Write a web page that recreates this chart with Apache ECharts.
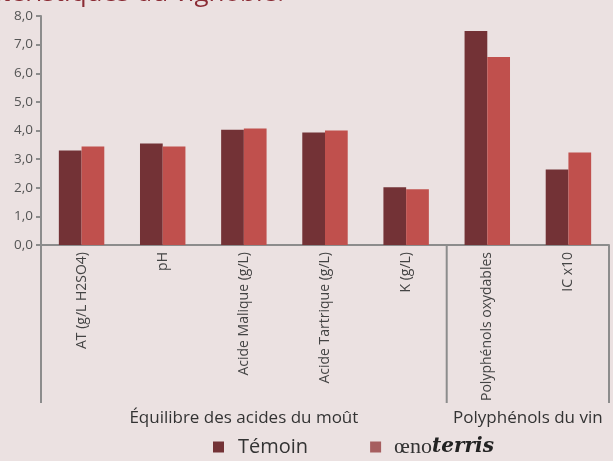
<!DOCTYPE html>
<html>
<head>
<meta charset="utf-8">
<script src="https://cdn.jsdelivr.net/npm/echarts@6/dist/echarts.min.js"></script>
<style>
html,body{margin:0;padding:0;background:#ebe1e1;}
#c{width:613px;height:461px;}
</style>
</head>
<body>
<div id="c"></div>
<script>
var categories = ['AT (g/L H2SO4)', 'pH', 'Acide Malique (g/L)', 'Acide Tartrique (g/L)', 'K (g/L)', 'Polyphénols oxydables', 'IC x10'];
var temoin = [3.30, 3.55, 4.03, 3.93, 2.02, 7.48, 2.64];
var oenoterris = [3.44, 3.44, 4.07, 4.00, 1.95, 6.57, 3.23];
var groups = [['Équilibre des acides du moût', 0, 4], ['Polyphénols du vin', 5, 6]];
var yTicks = { min: 0, max: 8, interval: 1 };

var FONT = 'Open Sans';
var chart = echarts.init(document.getElementById('c'), null, { renderer: 'canvas' });
var axisColor = '#8c8c8c';

var option = {
  backgroundColor: '#ebe1e1',
  animation: false,
  textStyle: { fontFamily: FONT },
  grid: { left: 41, right: 4, top: 16, bottom: 216, containLabel: false },
  legend: {
    bottom: -2, left: 208,
    itemWidth: 11, itemHeight: 11, itemGap: 62,
    icon: 'rect',
    data: [
      { name: 'Témoin', itemStyle: { color: '#733236' } },
      { name: 'oenoterris', itemStyle: { color: '#a65e5f' } }
    ],
    formatter: function (n) {
      if (n === 'oenoterris') return '{a|œno}{b|terris}';
      return '{t|' + n + '}';
    },
    textStyle: {
      rich: {
        t: { fontSize: 20, color: '#333', fontFamily: FONT, padding: [0, 0, 0, 9] },
        a: { fontSize: 22, color: '#333', fontFamily: 'Liberation Serif', padding: [0, 0, 0, 8] },
        b: { fontSize: 20, color: '#222', fontFamily: 'DejaVu Serif', fontStyle: 'italic', fontWeight: 'bold' }
      }
    }
  },
  xAxis: {
    type: 'category',
    data: categories,
    axisLine: { lineStyle: { color: axisColor, width: 2 } },
    axisTick: { show: false },
    axisLabel: { rotate: 90, color: '#444', fontSize: 14, fontFamily: FONT, margin: 7, interval: 0 }
  },
  yAxis: {
    type: 'value',
    min: yTicks.min, max: yTicks.max, interval: yTicks.interval,
    splitLine: { show: false },
    axisLine: { show: true, lineStyle: { color: axisColor, width: 2 } },
    axisTick: { show: true, length: 5, lineStyle: { color: axisColor, width: 2 } },
    axisLabel: {
      color: '#555', fontSize: 13.5, fontFamily: FONT, margin: 8,
      formatter: function (v) { return v.toFixed(1).replace('.', ','); }
    }
  },
  series: [
    { name: 'Témoin', type: 'bar', data: temoin, barWidth: '28%', barGap: '0%', itemStyle: { color: '#733236' } },
    { name: 'oenoterris', type: 'bar', data: oenoterris, barWidth: '28%', itemStyle: { color: '#c0504d' } }
  ]
};
chart.setOption(option);

// group separators and labels, positioned through the axis scale
var c0 = chart.convertToPixel({ xAxisIndex: 0 }, 0);
var c1 = chart.convertToPixel({ xAxisIndex: 0 }, 1);
var step = c1 - c0;
var y0 = chart.convertToPixel({ yAxisIndex: 0 }, 0);
var yBottom = y0 + 158;
var g = [];
var bounds = [];
groups.forEach(function (gr) {
  var xs = c0 + (gr[1] - 0.5) * step;
  var xe = c0 + (gr[2] + 0.5) * step;
  bounds.push(xs, xe);
  g.push({
    type: 'text', x: (xs + xe) / 2, y: yBottom + 15,
    style: { text: gr[0], fontSize: 17, fill: '#333', fontFamily: FONT, textAlign: 'center', textVerticalAlign: 'middle' }
  });
});
var uniq = bounds.filter(function (v, i) { return bounds.indexOf(v) === i; });
uniq.forEach(function (x) {
  g.push({ type: 'line', shape: { x1: x, y1: y0, x2: x, y2: yBottom }, style: { stroke: axisColor, lineWidth: 2 } });
});
g.push({
  type: 'text', x: 284, y: 7,
  style: { text: 'Caractéristiques du vignoble.', fontSize: 26, fill: '#8b2c35', fontFamily: FONT, textAlign: 'right', textVerticalAlign: 'bottom' }
});
chart.setOption({ graphic: g });
</script>
</body>
</html>
